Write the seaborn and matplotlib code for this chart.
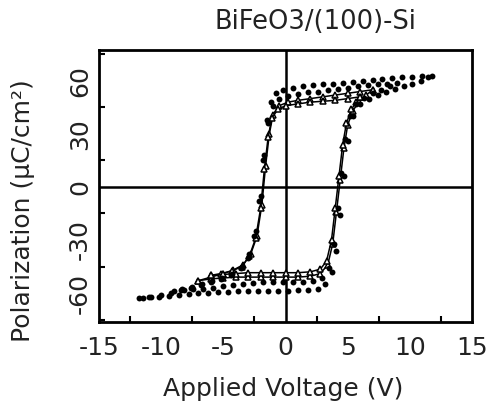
import matplotlib
matplotlib.use("Agg")
import matplotlib.pyplot as plt
import numpy as np
import pandas as pd
import seaborn as sns
from matplotlib.ticker import MultipleLocator

# ---------------- data ----------------
# Loop A: widest sweep (about +-11.8 V), dots
A_down_V = [11.8, 11.0, 10.2, 9.4, 8.6, 7.8, 7.0, 6.2, 5.4, 4.6, 3.8, 3.0, 2.2, 1.4, 0.6, -0.2,
            -0.8, -1.2, -1.5, -1.8, -2.1, -2.5, -3.0, -3.6, -4.4, -5.2, -6.0, -6.8, -7.6, -8.4,
            -9.2, -10.0, -10.8, -11.5]
A_down_P = [63, 63, 62.5, 62, 61.5, 61, 60.5, 60, 59.5, 59, 58.5, 58, 57.5, 57, 56, 55,
            53, 48, 38, 15, -8, -28, -40, -46, -50, -52, -54, -55.5, -57, -58.5,
            -60, -61, -62, -63]
A_up_V = [-11.8, -11.0, -10.2, -9.4, -8.6, -7.8, -7.0, -6.2, -5.4, -4.6, -3.8, -3.0, -2.2, -1.4,
          -0.6, 0.2, 1.0, 1.8, 2.6, 3.2, 3.7, 4.1, 4.4, 4.7, 5.0, 5.4, 6.0, 6.7, 7.4, 8.1,
          8.8, 9.5, 10.2, 10.9, 11.5]
A_up_P = [-63, -62.5, -62, -61.5, -61, -60.5, -60, -60, -59.5, -59.5, -59, -59, -59, -59,
          -59, -59, -58.5, -58.5, -58, -55, -48, -36, -16, 6, 26, 40, 47, 50, 52, 54,
          55.5, 57, 58.5, 60, 62]

# Loop B: medium sweep (about +-9 V), dots
B_down_V = [9.0, 8.2, 7.4, 6.6, 5.8, 5.0, 4.2, 3.4, 2.6, 1.8, 1.0, 0.2, -0.5, -1.0, -1.4, -1.7,
            -2.0, -2.4, -2.9, -3.5, -4.3, -5.1, -5.9, -6.7, -7.5, -8.3]
B_down_P = [59, 58.5, 58, 57.5, 57, 56, 55.5, 55, 54, 53.5, 52.5, 51.5, 50, 46, 36, 18,
            -5, -25, -38, -45, -49, -51.5, -53, -55, -56.5, -58]
B_up_V = [-9.0, -8.2, -7.4, -6.6, -5.8, -5.0, -4.2, -3.4, -2.6, -1.8, -1.0, -0.2, 0.6, 1.4,
          2.2, 2.9, 3.5, 3.9, 4.2, 4.5, 4.8, 5.2, 5.7, 6.3, 7.0, 7.7, 8.4]
B_up_P = [-59, -58.5, -58, -57.5, -57, -56, -55.5, -55, -54.5, -54, -54, -54, -54, -53.5,
          -53, -51.5, -46, -32, -12, 8, 27, 40, 47, 50.5, 53, 55, 57]

# Loop C: inner sweep (about +-7 V), triangles joined by a line
C_down_V = [7.0, 6.0, 5.0, 4.0, 3.0, 2.0, 1.0, 0.2, -0.5, -1.0, -1.3, -1.6, -1.9, -2.3, -2.8,
            -3.4, -4.2, -5.0, -6.0, -7.0]
C_down_P = [55, 54, 53, 52, 51, 50, 49, 48, 46, 41, 30, 12, -10, -28, -38,
            -44, -47, -49, -51, -53]
C_up_V = [-7.0, -6.0, -5.0, -4.0, -3.0, -2.0, -1.0, 0.0, 1.0, 2.0, 2.8, 3.4, 3.8, 4.1, 4.4,
          4.7, 5.0, 5.4, 5.9, 6.5, 7.0]
C_up_P = [-53, -52, -51.5, -51, -51, -51, -51, -51, -51, -50.5, -49, -44, -32, -14, 4,
          22, 35, 43, 48, 52, 55]

# Loop D: smallest sweep (about +-6 V), triangles joined by a line
D_down_V = [6.0, 5.0, 4.0, 3.0, 2.0, 1.0, 0.0, -0.6, -1.1, -1.4, -1.7, -2.0, -2.4, -2.9, -3.5,
            -4.3, -5.2, -6.0]
D_down_P = [51, 50, 49, 48.5, 48, 47, 46, 44, 39, 28, 10, -12, -29, -39, -45,
            -47.5, -49, -50]
D_up_V = [-6.0, -5.0, -4.0, -3.0, -2.0, -1.0, 0.0, 1.0, 2.0, 2.8, 3.3, 3.7, 4.0, 4.3, 4.6,
          4.9, 5.3, 5.7, 6.0]
D_up_P = [-50, -49.5, -49, -48.5, -48.5, -48.5, -48.5, -48.5, -48, -46.5, -42, -30, -12, 6, 24,
          36, 44, 48, 51]

x_ticks = [-15, -10, -5, 0, 5, 10, 15]
y_ticks = [-60, -30, 0, 30, 60]

title = "BiFeO3/(100)-Si"
xlabel = "Applied Voltage (V)"
ylabel = "Polarization (μC/cm²)"

# ---------------- assemble ----------------
def loop_frame(name, dv, dp, uv, up):
    parts = []
    parts.append(pd.DataFrame({"V": dv, "P": dp, "loop": name, "branch": name + "_down"}))
    parts.append(pd.DataFrame({"V": uv, "P": up, "loop": name, "branch": name + "_up"}))
    return pd.concat(parts, ignore_index=True)

dots = pd.concat([loop_frame("A", A_down_V, A_down_P, A_up_V, A_up_P),
                  loop_frame("B", B_down_V, B_down_P, B_up_V, B_up_P)], ignore_index=True)
tris = pd.concat([loop_frame("C", C_down_V, C_down_P, C_up_V, C_up_P),
                  loop_frame("D", D_down_V, D_down_P, D_up_V, D_up_P)], ignore_index=True)

# ---------------- draw ----------------
sns.set_style("white")
plt.rcParams["font.family"] = ["DejaVu Sans"]

W, H = 496, 403
fig = plt.figure(figsize=(W / 100, H / 100), dpi=100)
left, right, top, bottom = 99, 472, 50, 322
ax = fig.add_axes([left / W, 1 - bottom / H, (right - left) / W, (bottom - top) / H])

ax.axhline(0, color="black", lw=1.8, zorder=1)
ax.axvline(0, color="black", lw=1.8, zorder=1)

sns.lineplot(data=tris, x="V", y="P", units="branch", estimator=None, sort=False,
             color="black", lw=1.1, marker="^", markersize=5,
             markerfacecolor="white", markeredgecolor="black", markeredgewidth=1.1,
             ax=ax, zorder=3)
sns.scatterplot(data=dots, x="V", y="P", color="black", s=18, marker="o",
                linewidth=0, ax=ax, zorder=4)

ax.set_xlim(-15, 15)
ax.set_ylim(-76.4, 77.5)
ax.set_xticks(x_ticks)
ax.set_yticks(y_ticks)
ax.set_xticklabels([str(t) for t in x_ticks])
ax.set_yticklabels([str(t) for t in y_ticks])
ax.xaxis.set_minor_locator(MultipleLocator(2.5))
ax.yaxis.set_minor_locator(MultipleLocator(15))

txt = "#222222"
ax.tick_params(axis="both", which="major", length=0, labelsize=18, colors=txt)
ax.tick_params(axis="x", which="major", pad=10)
ax.tick_params(axis="y", which="major", pad=5, labelrotation=90)
ax.tick_params(axis="both", which="minor", direction="in", length=4, width=1.5,
               color="black", bottom=True, left=True, top=False, right=False)
for lab in ax.get_yticklabels():
    lab.set_va("center")

for sp in ax.spines.values():
    sp.set_color("black")
    sp.set_linewidth(2.0)
    sp.set_visible(True)

ax.set_xlabel(xlabel, fontsize=18, color=txt)
ax.set_ylabel(ylabel, fontsize=18, color=txt)
ax.xaxis.label.set_va("baseline")
ax.yaxis.label.set_va("center")
ax.xaxis.set_label_coords((283 - left) / (right - left), (bottom - 396) / (bottom - top))
ax.yaxis.set_label_coords((23 - left) / (right - left), (bottom - 211) / (bottom - top))

fig.text(315 / W, 1 - 22 / H, title, ha="center", va="center", fontsize=18.5, color=txt)

fig.savefig("out.png", dpi=100)
